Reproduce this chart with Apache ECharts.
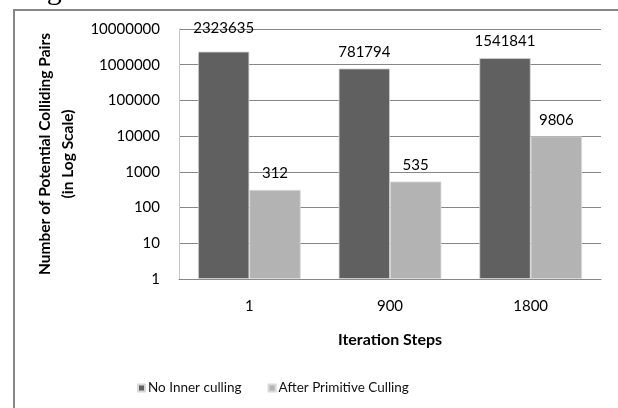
<!DOCTYPE html>
<html>
<head>
<meta charset="utf-8">
<script src="https://cdn.jsdelivr.net/npm/echarts@6/dist/echarts.min.js"></script>
<style>
  html, body { margin: 0; padding: 0; background: #fff; }
  #chart { width: 618px; height: 408px; }
</style>
</head>
<body>
<div id="chart"></div>
<script>
const categories = ['1', '900', '1800'];
const noInnerCulling = [2323635, 781794, 1541841];
const afterPrimitiveCulling = [312, 535, 9806];
const seriesNames = ['No Inner culling', 'After Primitive Culling'];

const FONT = 'Lato';
const chart = echarts.init(document.getElementById('chart'), null, { renderer: 'canvas' });

const labelFirst = noInnerCulling.map((v, i) => i === 0 ? { value: v, label: { offset: [0, -7] } } : v);

chart.setOption({
  animation: false,
  backgroundColor: '#fff',
  textStyle: { fontFamily: FONT },
  graphic: [
    { type: 'text', left: 10, top: -24, z: 0,
      style: { text: 'magnitude.', fontFamily: 'Liberation Serif', fontSize: 30, fill: '#000' } },
    { type: 'rect', z: 10, silent: true,
      shape: { x: 14, y: 10, width: 700, height: 500 },
      style: { fill: 'none', stroke: '#878787', lineWidth: 2 } }
  ],
  grid: { left: 179, right: 17, top: 29, bottom: 129 },
  legend: {
    left: 137, top: 381, padding: 0,
    icon: 'rect', itemWidth: 7, itemHeight: 7, itemGap: 26,
    textStyle: { fontFamily: FONT, fontSize: 13.5, color: '#111', padding: [0, 0, 0, -2] },
    data: seriesNames
  },
  xAxis: {
    type: 'category',
    data: categories,
    axisLine: { lineStyle: { color: '#878787', width: 1 } },
    axisTick: { show: false },
    axisLabel: { color: '#000', fontSize: 15, margin: 20, fontFamily: FONT },
    name: 'Iteration Steps',
    nameLocation: 'middle',
    nameGap: 53,
    nameTextStyle: { color: '#000', fontWeight: 'bold', fontSize: 16, fontFamily: FONT }
  },
  yAxis: {
    type: 'log',
    logBase: 10,
    min: 1,
    max: 10000000,
    axisLine: { show: true, lineStyle: { color: '#c8c8c8' } },
    axisTick: { show: false },
    splitLine: { lineStyle: { color: '#878787', width: 1 } },
    axisLabel: { color: '#000', fontSize: 15, margin: 19, fontFamily: FONT,
      formatter: v => String(Math.round(v)) },
    name: 'Number of Potential Colliding Pairs\n(in Log Scale)',
    nameLocation: 'middle',
    nameGap: 93,
    nameRotate: 90,
    nameTextStyle: { color: '#000', fontWeight: 'bold', fontSize: 15.5, lineHeight: 23, fontFamily: FONT }
  },
  series: [
    {
      name: seriesNames[0], type: 'bar', data: labelFirst,
      barGap: '0%', barCategoryGap: '27%',
      itemStyle: { color: '#606060', borderColor: '#d8d8d8', borderWidth: 0.8 },
      label: { show: true, position: 'top', distance: 9, color: '#000', fontSize: 15, fontFamily: FONT }
    },
    {
      name: seriesNames[1], type: 'bar', data: afterPrimitiveCulling,
      barGap: '0%', barCategoryGap: '27%',
      itemStyle: { color: '#b3b3b3', borderColor: '#d8d8d8', borderWidth: 0.8 },
      label: { show: true, position: 'top', distance: 9, color: '#000', fontSize: 15, fontFamily: FONT }
    }
  ]
});
</script>
</body>
</html>
